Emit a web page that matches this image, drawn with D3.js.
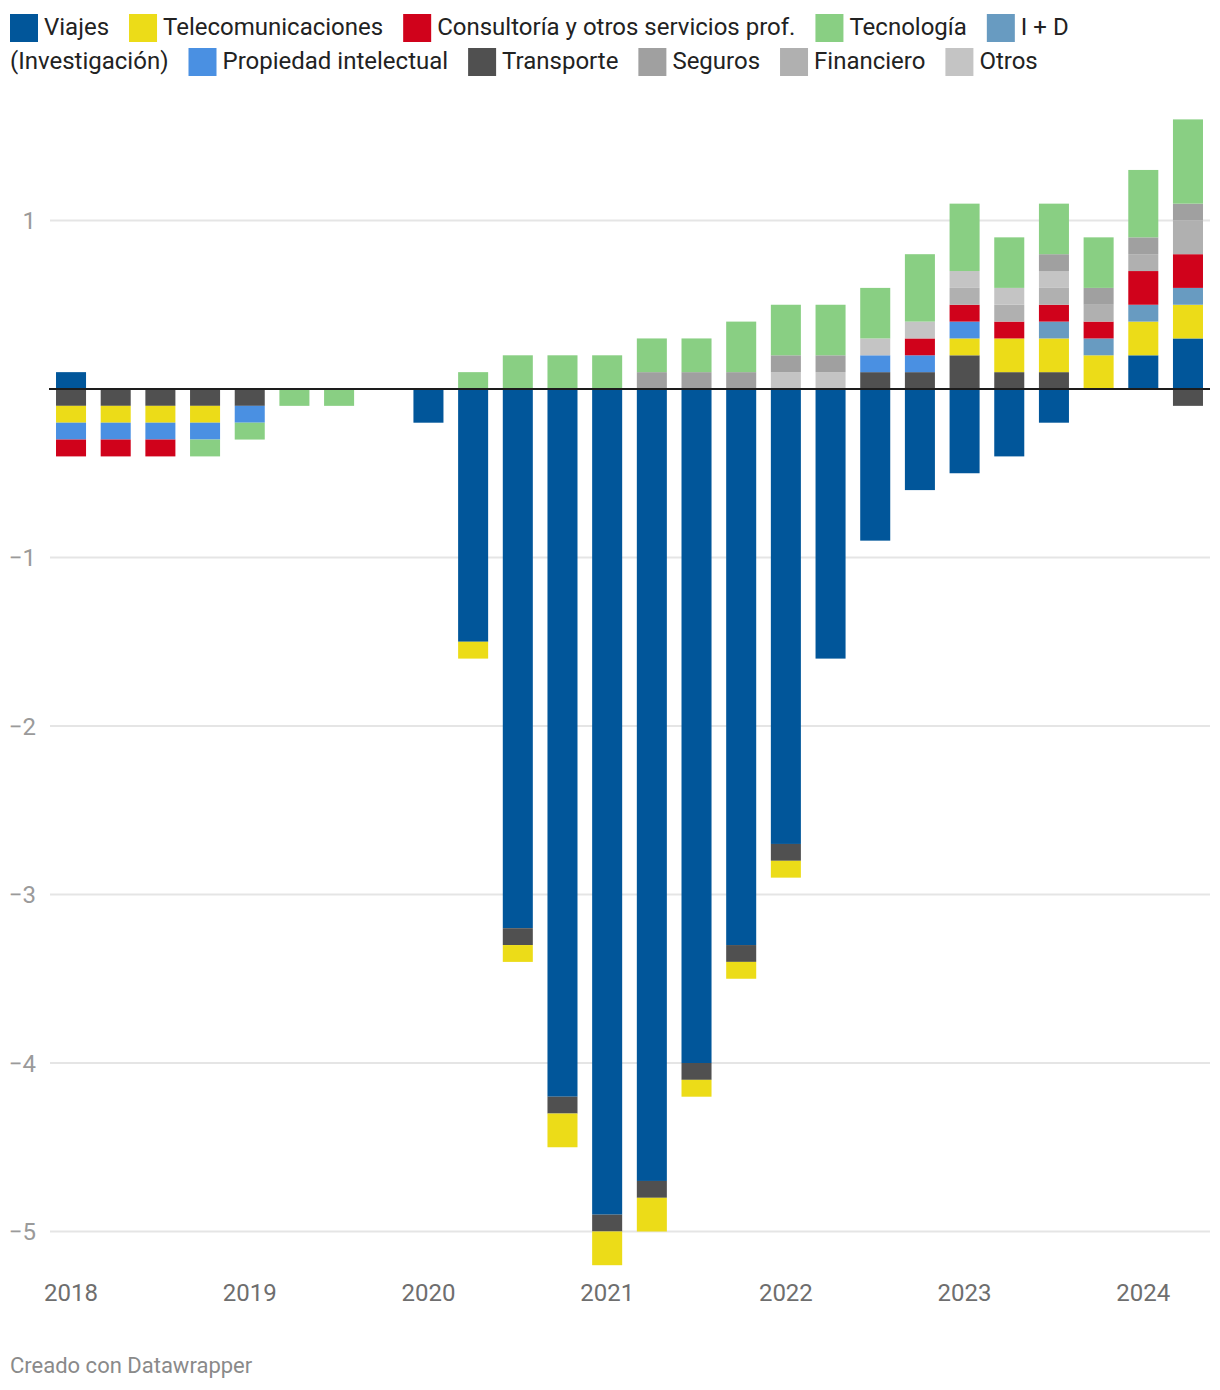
<!DOCTYPE html>
<html>
<head>
<meta charset="utf-8">
<script src="https://cdn.jsdelivr.net/npm/d3@7"></script>
<style>
  html, body { margin: 0; padding: 0; background: #fff; }
  svg text { font-family: Roboto, "Noto Sans", sans-serif; }
</style>
</head>
<body>
<svg id="chart" width="1220" height="1390"></svg>
<script>
// ---- DATA ----
const quarters = ["2018-T1","2018-T2","2018-T3","2018-T4","2019-T1","2019-T2","2019-T3","2019-T4",
  "2020-T1","2020-T2","2020-T3","2020-T4","2021-T1","2021-T2","2021-T3","2021-T4",
  "2022-T1","2022-T2","2022-T3","2022-T4","2023-T1","2023-T2","2023-T3","2023-T4",
  "2024-T1","2024-T2"];
const yearTicks = ["2018-T1","2019-T1","2020-T1","2021-T1","2022-T1","2023-T1","2024-T1"];
const yearLabels = ["2018","2019","2020","2021","2022","2023","2024"];
const yTicks = [-5,-4,-3,-2,-1,1];

const viajes      = [0.1,0,0,0,0,0,0,0,-0.2,-1.5,-3.2,-4.2,-4.9,-4.7,-4.0,-3.3,-2.7,-1.6,-0.9,-0.6,-0.5,-0.4,-0.2,0,0.2,0.3];
const telecom     = [-0.1,-0.1,-0.1,-0.1,0,0,0,0,0,-0.1,-0.1,-0.2,-0.2,-0.2,-0.1,-0.1,-0.1,0,0,0,0.1,0.2,0.2,0.2,0.2,0.2];
const consultoria = [-0.1,-0.1,-0.1,0,0,0,0,0,0,0,0,0,0,0,0,0,0,0,0,0.1,0.1,0.1,0.1,0.1,0.2,0.2];
const tecnologia  = [0,0,0,-0.1,-0.1,-0.1,-0.1,0,0,0.1,0.2,0.2,0.2,0.2,0.2,0.3,0.3,0.3,0.3,0.4,0.4,0.3,0.3,0.3,0.4,0.5];
const imasd       = [0,0,0,0,0,0,0,0,0,0,0,0,0,0,0,0,0,0,0,0,0,0,0.1,0.1,0.1,0.1];
const propiedad   = [-0.1,-0.1,-0.1,-0.1,-0.1,0,0,0,0,0,0,0,0,0,0,0,0,0,0.1,0.1,0.1,0,0,0,0,0];
const transporte  = [-0.1,-0.1,-0.1,-0.1,-0.1,0,0,0,0,0,-0.1,-0.1,-0.1,-0.1,-0.1,-0.1,-0.1,0,0.1,0.1,0.2,0.1,0.1,0,0,-0.1];
const seguros     = [0,0,0,0,0,0,0,0,0,0,0,0,0,0.1,0.1,0.1,0.1,0.1,0,0,0,0,0.1,0.1,0.1,0.1];
const financiero  = [0,0,0,0,0,0,0,0,0,0,0,0,0,0,0,0,0,0,0,0,0.1,0.1,0.1,0.1,0.1,0.2];
const otros       = [0,0,0,0,0,0,0,0,0,0,0,0,0,0,0,0,0.1,0.1,0.1,0.1,0.1,0.1,0.1,0,0,0];

const seriesNames = ["Viajes","Telecomunicaciones","Consultoría y otros servicios prof.","Tecnología",
  "I + D (Investigación)","Propiedad intelectual","Transporte","Seguros","Financiero","Otros"];
const seriesValues = [viajes, telecom, consultoria, tecnologia, imasd, propiedad, transporte, seguros, financiero, otros];
const seriesColors = ["#01569a","#ecdc18","#d0021b","#89cf83","#689bc1","#4a90e2","#505050","#a0a0a0","#b0b0b0","#c4c4c4"];
// order in which segments are stacked away from zero
const stackOrder = ["Viajes","Transporte","Telecomunicaciones","I + D (Investigación)","Propiedad intelectual",
  "Consultoría y otros servicios prof.","Financiero","Otros","Seguros","Tecnología"];

// ---- BUILD TABLE ----
const table = quarters.map((q, i) => {
  const row = { q };
  seriesNames.forEach((n, k) => { row[n] = seriesValues[k][i]; });
  return row;
});
const color = d3.scaleOrdinal().domain(seriesNames).range(seriesColors);

const svg = d3.select("#chart");

// ---- SCALES ----
const x = d3.scaleBand().domain(quarters).range([49, 1210]).paddingInner(0.328).paddingOuter(0.157);
const y = d3.scaleLinear().domain([-5, 1]).range([1231.5, 220.5]);

// gridlines
svg.append("g").selectAll("line").data(yTicks).join("line")
  .attr("x1", 50).attr("x2", 1210)
  .attr("y1", d => y(d)).attr("y2", d => y(d))
  .attr("stroke", "#e5e5e5").attr("stroke-width", 2);

// y labels
svg.append("g").selectAll("text").data(yTicks).join("text")
  .attr("x", 36).attr("y", d => y(d)).attr("dy", "0.36em")
  .attr("text-anchor", "end")
  .attr("font-size", 24).attr("fill", "#9a9a9a")
  .text(d => d < 0 ? "\u2212" + Math.abs(d) : String(d));

// stacked bars
const stack = d3.stack().keys(stackOrder).offset(d3.stackOffsetDiverging);
const layers = stack(table);
svg.append("g").selectAll("g").data(layers).join("g")
  .attr("fill", d => color(d.key))
  .selectAll("rect").data(d => d.filter(s => Math.abs(s[1] - s[0]) > 1e-9)).join("rect")
  .attr("x", d => x(d.data.q))
  .attr("width", x.bandwidth())
  .attr("y", d => y(Math.max(d[0], d[1])))
  .attr("height", d => Math.abs(y(d[0]) - y(d[1])));

// zero line
svg.append("line").attr("x1", 49).attr("x2", 1210).attr("y1", y(0)).attr("y2", y(0))
  .attr("stroke", "#1d1d1d").attr("stroke-width", 2);

// x labels
svg.append("g").selectAll("text").data(yearTicks).join("text")
  .attr("x", d => x(d) + x.bandwidth() / 2).attr("y", 1301)
  .attr("text-anchor", "middle").attr("font-size", 24).attr("fill", "#6e6e6e")
  .text((d, i) => yearLabels[i]);

// legend (flowing, with the I + D label wrapping onto the second row)
const legend = svg.append("g");
let lx = 10, row = 0;
const rowY = [14, 48];
seriesNames.forEach((name, k) => {
  const parts = name === "I + D (Investigación)" ? ["I + D", "(Investigación)"] : [name];
  legend.append("rect").attr("x", lx).attr("y", rowY[row]).attr("width", 28).attr("height", 28)
    .attr("fill", seriesColors[k]);
  lx += 34;
  parts.forEach((p, j) => {
    if (j > 0) { row += 1; lx = 10; }
    const t = legend.append("text").attr("x", lx).attr("y", rowY[row] + 20.5)
      .attr("font-size", 24).attr("fill", "#222").text(p);
    lx += t.node().getComputedTextLength() + 20;
  });
});

// footer
svg.append("text").attr("x", 10).attr("y", 1373).attr("font-size", 22).attr("fill", "#8a8a8a")
  .text("Creado con Datawrapper");
</script>
</body>
</html>
